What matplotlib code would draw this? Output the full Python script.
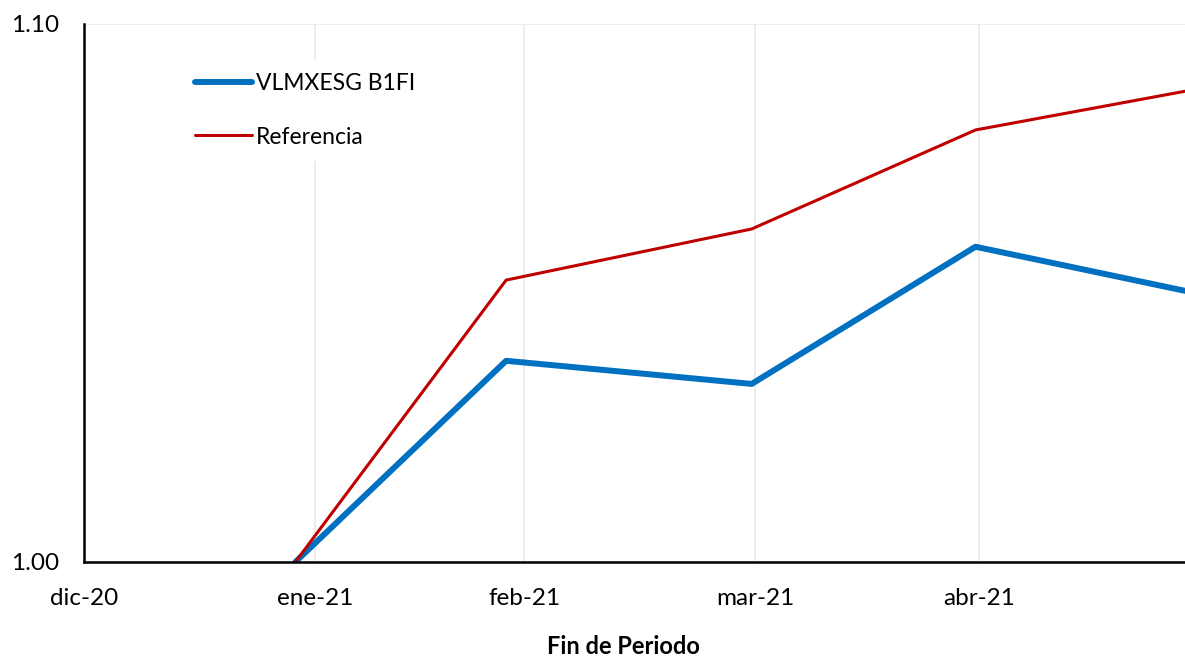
import matplotlib.pyplot as plt
import numpy as np

# fechas de cada observacion
fechas = np.array(['2021-01-28T08', '2021-02-25T14', '2021-03-30T12', '2021-04-29T12', '2021-05-27T14'],
                  dtype='datetime64[h]')
vlmxesg = [1.000, 1.0374, 1.0331, 1.0586, 1.0504]
referencia = [1.000, 1.0524, 1.0619, 1.0803, 1.0875]

tick_fechas = np.array(['2020-12-31', '2021-01-31', '2021-02-28', '2021-03-31', '2021-04-30'],
                       dtype='datetime64[h]')
tick_labels = ['dic-20', 'ene-21', 'feb-21', 'mar-21', 'abr-21']

plt.rcParams['font.family'] = ['Lato', 'DejaVu Sans']

fig = plt.figure(figsize=(11.85, 6.59), dpi=100)
ax = fig.add_axes([84 / 1185, 97 / 659, 1 - 84 / 1185, 538 / 659])

ax.plot(fechas, vlmxesg, color='#0070C0', lw=4.3, label='VLMXESG B1FI', solid_capstyle='round')
ax.plot(fechas, referencia, color='#C00000', lw=2.2, label='Referencia', solid_capstyle='round')

ax.set_xlim(tick_fechas[0], fechas[-1])
ax.set_ylim(1.00, 1.10)
ax.set_xticks(tick_fechas)
ax.set_xticklabels(tick_labels)
ax.set_yticks([1.00, 1.10])
ax.set_yticklabels(['1.00', '1.10'])
ax.tick_params(axis='both', length=0, labelsize=17.5, colors='black')
ax.tick_params(axis='y', pad=18)
ax.tick_params(axis='x', pad=19)

ax.grid(True, color='#EBEBEB', lw=1.3)
ax.set_axisbelow(True)
for s in ['top', 'right']:
    ax.spines[s].set_visible(False)
for s in ['left', 'bottom']:
    ax.spines[s].set_linewidth(1.8)
    ax.spines[s].set_color('black')

ax.set_xlabel('Fin de Periodo', fontsize=17, fontweight='bold')
ax.xaxis.set_label_coords((623 - 84) / 1101, -0.135)

leg = ax.legend(loc='upper left', bbox_to_anchor=(0.078, 0.955), fontsize=16.5, frameon=True,
                handlelength=2.5, handletextpad=0.15, labelspacing=1.4, borderpad=0.6)
leg.get_frame().set_facecolor('white')
leg.get_frame().set_edgecolor('none')
leg.get_frame().set_alpha(1)

plt.savefig('out.png', dpi=100)
